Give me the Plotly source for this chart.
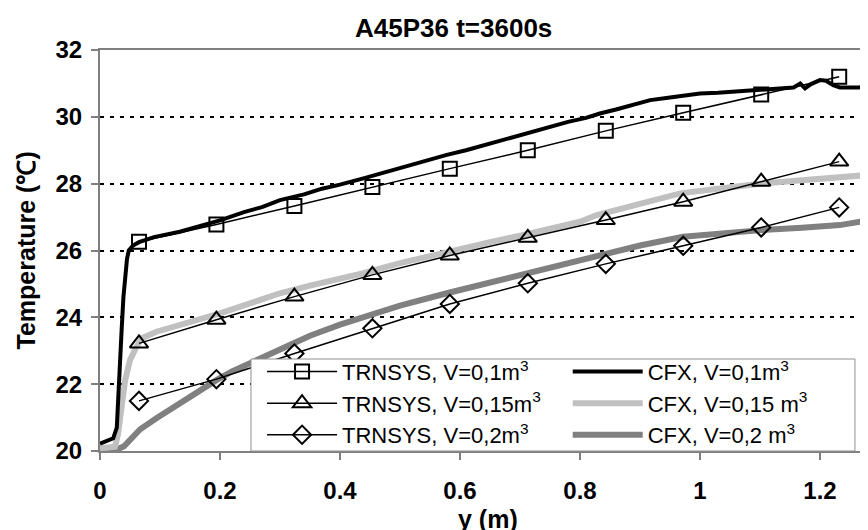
import plotly.graph_objects as go

# TRNSYS node results (markers)
trn_x = [0.065, 0.194, 0.324, 0.454, 0.583, 0.713, 0.843, 0.972, 1.102, 1.232]
trn_v01 = [26.26, 26.78, 27.33, 27.9, 28.45, 29.0, 29.58, 30.12, 30.67, 31.2]
trn_v015 = [23.22, 23.93, 24.62, 25.27, 25.85, 26.38, 26.91, 27.46, 28.06, 28.66]
trn_v02 = [21.5, 22.15, 22.92, 23.67, 24.4, 25.02, 25.6, 26.14, 26.69, 27.29]

# CFX profiles
cfx01_x = [0, 0.01, 0.022, 0.028, 0.031, 0.034, 0.036, 0.039, 0.042, 0.045, 0.048,
           0.055, 0.065, 0.09, 0.133, 0.17, 0.2, 0.24, 0.27, 0.3, 0.34, 0.37, 0.4,
           0.439, 0.47, 0.5, 0.54, 0.578, 0.61, 0.65, 0.68, 0.717, 0.75, 0.78, 0.81,
           0.833, 0.86, 0.89, 0.917, 0.95, 0.98, 1.0, 1.03, 1.06, 1.083, 1.11, 1.13,
           1.145, 1.156, 1.167, 1.175, 1.185, 1.2, 1.21, 1.222, 1.233, 1.25, 1.265, 1.28]
cfx01_y = [20.22, 20.3, 20.38, 20.7, 21.6, 22.7, 23.6, 24.6, 25.3, 25.75, 26.0,
           26.15, 26.25, 26.4, 26.56, 26.74, 26.9, 27.15, 27.3, 27.51, 27.68, 27.85, 27.97,
           28.16, 28.32, 28.45, 28.66, 28.86, 29.0, 29.2, 29.38, 29.55, 29.7, 29.85, 29.97,
           30.1, 30.22, 30.36, 30.5, 30.58, 30.66, 30.7, 30.72, 30.76, 30.78, 30.8, 30.84,
           30.86, 30.88, 31.0, 30.85, 30.98, 31.1, 31.08, 30.95, 30.88, 30.87, 30.88, 30.9]

cfx015_x = [0, 0.025, 0.03, 0.033, 0.038, 0.042, 0.05, 0.058, 0.069, 0.094, 0.133,
            0.17, 0.2, 0.25, 0.3, 0.35, 0.4, 0.439, 0.5, 0.578, 0.65, 0.717, 0.77,
            0.8, 0.828, 0.9, 0.967, 1.03, 1.1, 1.17, 1.233, 1.28]
cfx015_y = [20.08, 20.13, 20.5, 21.03, 21.6, 22.12, 22.72, 23.02, 23.37, 23.57, 23.77,
            23.95, 24.12, 24.42, 24.72, 24.95, 25.15, 25.32, 25.62, 25.96, 26.25, 26.51, 26.75,
            26.86, 27.06, 27.4, 27.71, 27.85, 28.0, 28.1, 28.17, 28.26]

cfx02_x = [0, 0.02, 0.03, 0.04, 0.05, 0.067, 0.094, 0.133, 0.16, 0.194, 0.22, 0.25,
           0.3, 0.35, 0.4, 0.439, 0.5, 0.578, 0.65, 0.717, 0.77, 0.828, 0.9, 0.972,
           1.04, 1.102, 1.17, 1.233, 1.28]
cfx02_y = [20.02, 20.04, 20.06, 20.14, 20.35, 20.65, 20.98, 21.43, 21.75, 22.12, 22.38, 22.63,
           23.07, 23.45, 23.78, 24.02, 24.35, 24.72, 25.05, 25.32, 25.6, 25.86, 26.15, 26.41,
           26.52, 26.61, 26.68, 26.76, 26.9]

FONT = "Liberation Sans, Arial, sans-serif"

fig = go.Figure()

# CFX curves
fig.add_trace(go.Scatter(x=cfx02_x, y=cfx02_y, mode="lines", name="CFX, V=0,2 m<sup>3</sup>",
                         line=dict(color="#808080", width=6), legend="legend2", legendrank=3))
fig.add_trace(go.Scatter(x=cfx015_x, y=cfx015_y, mode="lines", name="CFX, V=0,15 m<sup>3</sup>",
                         line=dict(color="#c0c0c0", width=6), legend="legend2", legendrank=2))
fig.add_trace(go.Scatter(x=cfx01_x, y=cfx01_y, mode="lines", name="CFX, V=0,1m<sup>3</sup>",
                         line=dict(color="black", width=4), legend="legend2", legendrank=1))

# TRNSYS curves
for vals, sym, size, label, rank in [
    (trn_v01, "square-open", 14, "TRNSYS, V=0,1m<sup>3</sup>", 1),
    (trn_v015, "triangle-up-open", 16, "TRNSYS, V=0,15m<sup>3</sup>", 2),
    (trn_v02, "diamond-open", 14, "TRNSYS, V=0,2m<sup>3</sup>", 3),
]:
    fig.add_trace(go.Scatter(
        x=trn_x, y=vals, mode="lines+markers", name=label, legendrank=rank,
        line=dict(color="black", width=1.5),
        marker=dict(symbol=sym, size=size, color="black", line=dict(color="black", width=2)),
    ))

legend_common = dict(
    bgcolor="rgba(0,0,0,0)", borderwidth=0, font=dict(family=FONT, size=22, color="black"),
    itemwidth=70, tracegroupgap=0, yanchor="top", xanchor="left", traceorder="normal",
)

# the page is shifted by the 8px body margin, so the figure is 8px smaller
fig.update_layout(
    width=860, height=522,
    margin=dict(l=92, r=0, t=42, b=79),
    paper_bgcolor="white", plot_bgcolor="white",
    font=dict(family=FONT, color="black"),
    xaxis=dict(
        range=[0, 1.28], tickvals=[0, 0.2, 0.4, 0.6, 0.8, 1.0, 1.2],
        ticktext=["0", "0.2", "0.4", "0.6", "0.8", "1", "1.2"],
        showgrid=False, zeroline=False,
        showline=True, linecolor="#808080", linewidth=2, mirror=True,
        ticks="outside", ticklen=7, tickwidth=2, tickcolor="#808080",
        tickfont=dict(family=FONT, size=24, weight="bold", color="black"),
        ticklabelstandoff=10,
    ),
    yaxis=dict(
        range=[20, 32], tickvals=[20, 22, 24, 26, 28, 30, 32],
        showgrid=True, gridcolor="black", gridwidth=2, griddash="4px,6px",
        zeroline=False, showline=True, linecolor="#808080", linewidth=2,
        ticks="outside", ticklen=7, tickwidth=2, tickcolor="#808080",
        tickfont=dict(family=FONT, size=24, weight="bold", color="black"),
        ticklabelstandoff=4,
    ),
    legend=dict(x=0.211, y=0.25, **legend_common),
    legend2=dict(x=0.609, y=0.25, **legend_common),
    shapes=[dict(type="rect", xref="paper", yref="paper", x0=0.1966, x1=0.983, y0=0, y1=0.2294,
                 line=dict(color="#909090", width=1), fillcolor="white", layer="above")],
    annotations=[
        dict(text="A45P36 t=3600s", xref="paper", yref="paper", x=0.46, y=1.055,
             xanchor="center", yanchor="middle", showarrow=False,
             font=dict(family=FONT, size=26, weight="bold")),
        dict(text="Temperature (℃)", xref="paper", yref="paper", x=-0.0964, y=0.5,
             xanchor="center", yanchor="middle", showarrow=False, textangle=-90,
             font=dict(family=FONT, size=25, weight="bold")),
        dict(text="y (m)", xref="paper", yref="paper", x=0.505, y=-0.17,
             xanchor="center", yanchor="middle", showarrow=False,
             font=dict(family=FONT, size=25, weight="bold")),
    ],
)

fig.write_html("out.html")
